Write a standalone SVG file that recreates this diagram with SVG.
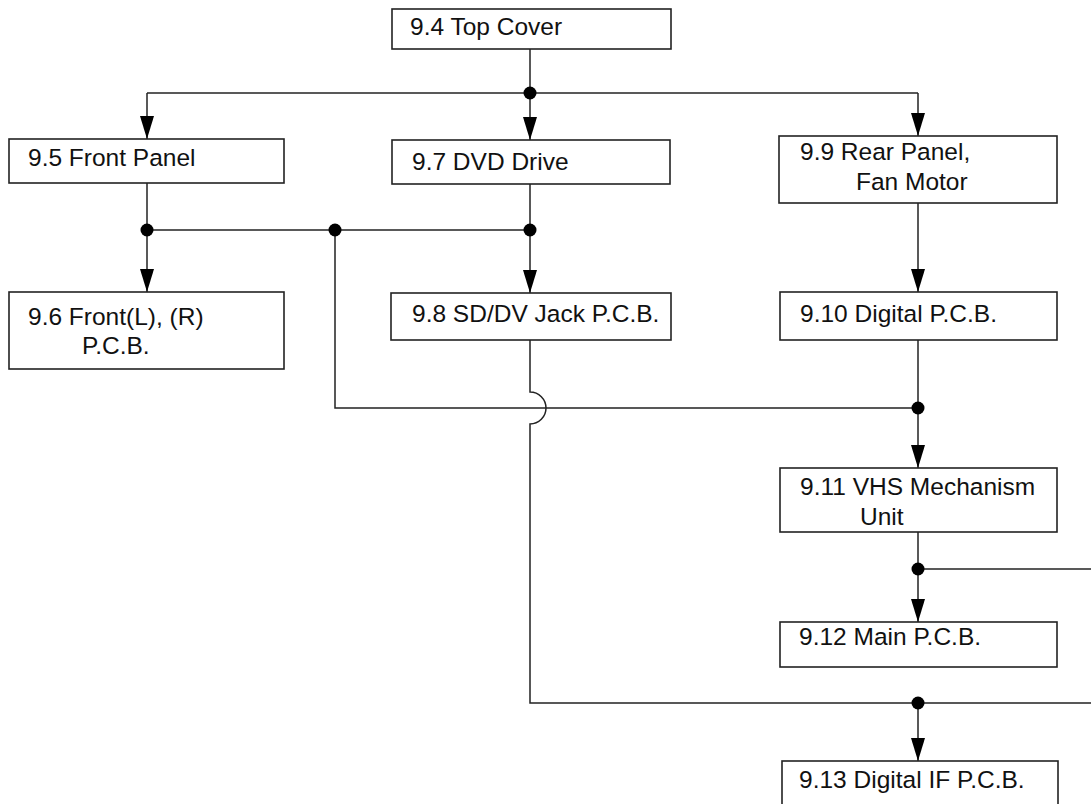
<svg xmlns="http://www.w3.org/2000/svg" width="1091" height="804" viewBox="0 0 1091 804">
<style>
.box{fill:#fff;stroke:#222;stroke-width:1.6}
.lbl{font-family:"Liberation Sans",Arial,sans-serif;font-size:24.5px;fill:#111}
.ln{fill:none;stroke:#222;stroke-width:1.5}
.arr{fill:none;stroke:#222;stroke-width:1.5;marker-end:url(#ah)}
.dot{fill:#000}
</style>
<defs>
<marker id="ah" markerUnits="userSpaceOnUse" markerWidth="23" markerHeight="14" refX="23" refY="7" orient="auto">
<path d="M0,0 L23,7 L0,14 z" fill="#000"/>
</marker>
</defs>
<rect width="1091" height="804" fill="#fff"/>
<g id="connectors">
<path class="ln" d="M530,49 V93"/>
<path class="ln" d="M147,93 H918"/>
<path class="arr" d="M147,93 V139"/>
<path class="arr" d="M530,93 V140"/>
<path class="arr" d="M918,93 V136"/>
<path class="arr" d="M147,183 V292"/>
<path class="arr" d="M530,184 V293"/>
<path class="ln" d="M147,230 H530"/>
<path class="ln" d="M335,230 V408 H918"/>
<path class="arr" d="M918,203 V292"/>
<path class="arr" d="M918,340 V468"/>
<path class="arr" d="M918,532 V622"/>
<path class="ln" d="M918,569 H1091"/>
<path class="ln" d="M530,340 V392 A16,16 0 0 1 530,424 V703 H1091"/>
<path class="arr" d="M918,703 V761"/>
<circle class="dot" cx="530" cy="93" r="6.5"/>
<circle class="dot" cx="147" cy="230" r="6.5"/>
<circle class="dot" cx="335" cy="230" r="6.5"/>
<circle class="dot" cx="530" cy="230" r="6.5"/>
<circle class="dot" cx="918" cy="408" r="6.5"/>
<circle class="dot" cx="918" cy="569" r="6.5"/>
<circle class="dot" cx="918" cy="703" r="6.5"/>
</g>
<g id="n94"><rect class="box" x="392" y="9" width="279" height="40"/><text class="lbl" x="410" y="35">9.4 Top Cover</text></g>
<g id="n95"><rect class="box" x="9" y="139" width="275" height="44"/><text class="lbl" x="28" y="166">9.5 Front Panel</text></g>
<g id="n97"><rect class="box" x="392" y="140" width="278" height="44"/><text class="lbl" x="412" y="170">9.7 DVD Drive</text></g>
<g id="n99"><rect class="box" x="779" y="136" width="278" height="67"/><text class="lbl" x="800" y="160">9.9 Rear Panel,</text><text class="lbl" x="856" y="190">Fan Motor</text></g>
<g id="n96"><rect class="box" x="9" y="292" width="275" height="77"/><text class="lbl" x="28" y="325">9.6 Front(L), (R)</text><text class="lbl" x="82" y="354">P.C.B.</text></g>
<g id="n98"><rect class="box" x="391" y="293" width="280" height="47"/><text class="lbl" x="412" y="322">9.8 SD/DV Jack P.C.B.</text></g>
<g id="n910"><rect class="box" x="780" y="292" width="277" height="48"/><text class="lbl" x="800" y="322">9.10 Digital P.C.B.</text></g>
<g id="n911"><rect class="box" x="780" y="468" width="277" height="64"/><text class="lbl" x="800" y="495">9.11 VHS Mechanism</text><text class="lbl" x="860" y="525">Unit</text></g>
<g id="n912"><rect class="box" x="780" y="622" width="277" height="45"/><text class="lbl" x="799" y="645">9.12 Main P.C.B.</text></g>
<g id="n913"><rect class="box" x="782" y="761" width="276" height="60"/><text class="lbl" x="799" y="788">9.13 Digital IF P.C.B.</text></g>
</svg>
